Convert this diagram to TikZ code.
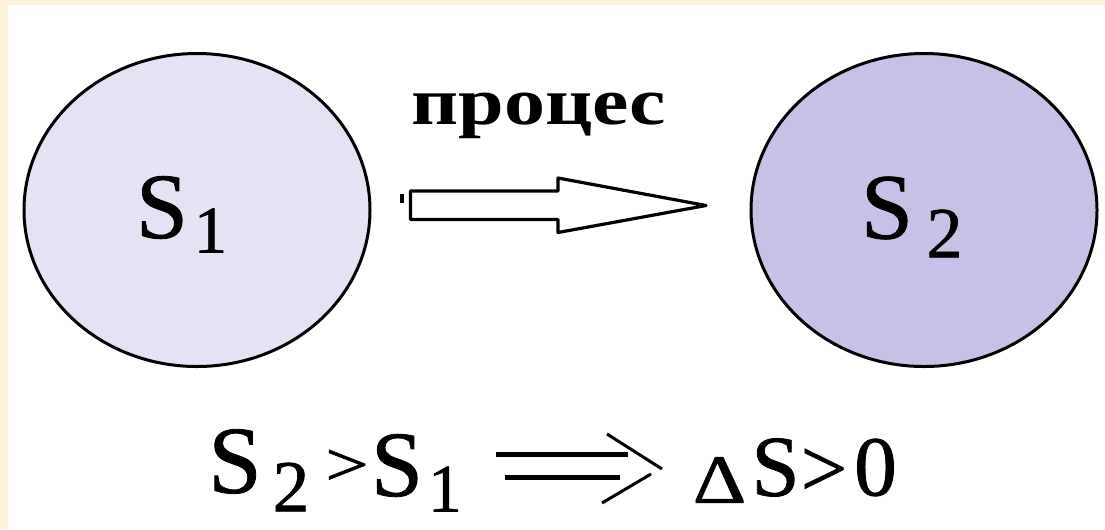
\documentclass[tikz,border=0pt]{standalone}
\usepackage{fontspec}
\setmainfont{Liberation Serif}
\newfontfamily\glyphfont{Liberation Serif}[FakeBold=0.9]
\usetikzlibrary{shapes.geometric}
\definecolor{cream}{RGB}{253,241,217}
\definecolor{lavA}{RGB}{230,225,245}
\definecolor{lavB}{RGB}{200,192,230}
\newcommand{\fsz}[1]{\glyphfont\fontsize{#1}{#1}\selectfont}
\begin{document}
\begin{tikzpicture}[x=0.75pt,y=-0.75pt,
  state/.style={ellipse, draw=black, line width=2.25pt, minimum width=259.5pt, minimum height=234.75pt, inner sep=0pt},
  glyph/.style={inner sep=0pt, outer sep=0pt, anchor=center},
  outline/.style={draw=black, line width=2.4pt, line join=round},
  thickbar/.style={draw=black, line width=3.75pt},
  thinbar/.style={draw=black, line width=2.25pt}]
\useasboundingbox (0,0) rectangle (1105,529);
\fill[cream] (0,0) rectangle (1105,529);
\fill[white] (8,5) rectangle (1105,529);
% states
\node[state, fill=lavA] (s1) at (197,210) {};
\node[state, fill=lavB] (s2) at (924,210) {};
\node[glyph] (s1S) at (162,207.5) {\fsz{70pt}S};
\node[glyph] (s1i) at (210.5,230.5) {\fsz{50pt}1};
\node[glyph] (s2S) at (887,208) {\fsz{70pt}S};
\node[glyph] (s2i) at (944.5,233.5) {\fsz{54pt}2};
% process label
\node[glyph] (proc) at (539,115.5) {\resizebox{191pt}{23.6pt}{\bfseries процес}};
% block arrow
\coordinate (bt) at (706,205.5);
\draw[outline, fill=white] (410.5,191) -- (558,191) -- (558,178) -- (bt) -- (558,232.5) -- (558,219.5) -- (410.5,219.5) -- cycle;
\fill[black] (399.5,194) rectangle (404,203);
% formula
\node[glyph] (fS2) at (235,461.5) {\fsz{72pt}S};
\node[glyph] (f2) at (291,487) {\fsz{55pt}2};
\node[glyph] (fgt1) at (347,467.5) {\scalebox{1}[0.8]{\fsz{58pt}>}};
\node[glyph] (fS1) at (397,465.5) {\fsz{70pt}S};
\node[glyph] (f1) at (445,489) {\fsz{51pt}1};
\coordinate (ta) at (496,454.5); \coordinate (tb) at (628,454.5);
\coordinate (ba) at (505,477.5); \coordinate (bb) at (620,477.5);
\coordinate (ca) at (607,434); \coordinate (cb) at (662,469);
\coordinate (cc) at (651,474); \coordinate (cd) at (602,503);
\draw[thickbar] (ta) -- (tb);
\draw[thickbar] (ba) -- (bb);
\draw[thinbar] (ca) -- (cb);
\draw[thinbar] (cc) -- (cd);
\node[glyph] (fD) at (719.5,480) {\scalebox{1.2}[1]{\fsz{52pt}Δ}};
\node[glyph] (fS) at (775.5,467.5) {\fsz{65pt}S};
\node[glyph] (fgt2) at (824,472.5) {\fsz{62pt}>};
\node[glyph] (f0) at (875.5,467.5) {\fsz{64pt}0};
\end{tikzpicture}
\end{document}
